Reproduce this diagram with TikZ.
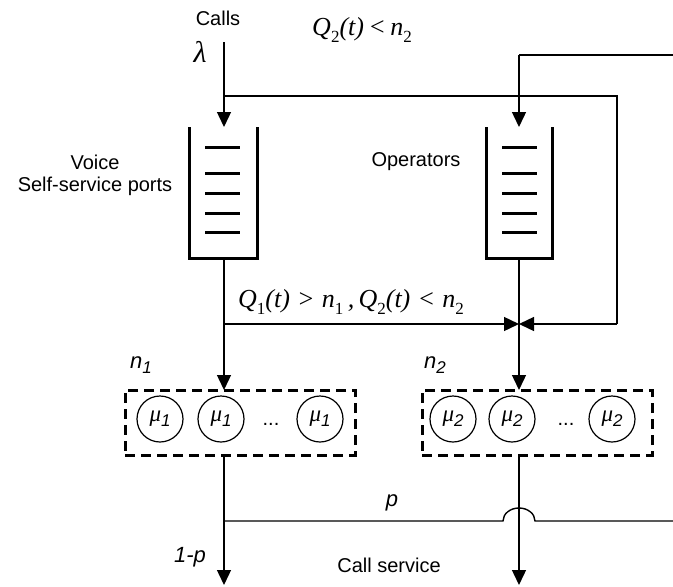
\documentclass[tikz,border=0pt]{standalone}
\usepackage{fontspec}
\setmainfont{Liberation Serif}
\setsansfont{Liberation Sans}
\usetikzlibrary{arrows.meta}

% lowered upright subscript for the condition labels
\newcommand\lowsub[1]{\raisebox{-0.3em}{\upshape\fontsize{17}{17}\selectfont #1}}
% service rate with its sans italic index
\newcommand\rate[1]{{\itshape μ}\raisebox{-0.22em}{\sffamily\itshape\fontsize{17}{17}\selectfont #1}}

\begin{document}
\begin{tikzpicture}[x=1pt,y=-1pt,
  wire/.style={line width=1.4pt},
  arr/.style={wire,-{Triangle[length=15pt,width=14pt]}},
  qwall/.style={line width=3pt},
  qbar/.style={line width=3pt},
  pool/.style={draw,line width=3pt,dash pattern=on 10pt off 6pt,
               minimum width=230pt,minimum height=65pt,outer sep=0pt,inner sep=0pt},
  srv/.style={circle,draw,line width=1.2pt,minimum size=46pt,inner sep=0pt,
              font=\fontsize{23}{24}\selectfont},
  lbl/.style={font=\sffamily\fontsize{20}{22}\selectfont,inner sep=0pt},
  ilbl/.style={font=\sffamily\itshape\fontsize{22}{24}\selectfont,inner sep=0pt},
  mth/.style={font=\itshape\fontsize{26}{28}\selectfont,inner sep=0pt}]

\useasboundingbox (0,0) rectangle (673,587);

% routing points
\coordinate (in) at (224,42);
\coordinate (split) at (224,96);
\coordinate (q1top) at (224,127);
\coordinate (q2top) at (519,127);
\coordinate (fbR) at (617,96);
\coordinate (fbC) at (617,324);
\coordinate (meet) at (519,324);
\coordinate (q1bot) at (224,258);
\coordinate (q2bot) at (519,258);
\coordinate (branch) at (224,324);
\coordinate (ext) at (673,55);
\coordinate (extC) at (519,55);
\coordinate (out1) at (224,585);
\coordinate (out2) at (519,585);
\coordinate (pl) at (224,521);
\coordinate (pr) at (673,521);

% queues
\draw[qwall] (189,127) -- (189,258) -- (257,258) -- (257,127);
\draw[qwall] (486,127) -- (486,258) -- (552,258) -- (552,127);
\foreach \y in {147,173,193,213,232}{
  \draw[qbar] (205,\y) -- (240,\y);
  \draw[qbar] (502,\y) -- (537,\y);
}

% server pools
\node[pool] (pool1) at (240,422.5) {};
\node[pool] (pool2) at (537,422.5) {};
\node[srv] (s11) at (160,419) {\rate{1}};
\node[srv] (s12) at (221,419) {\rate{1}};
\node[srv] (s13) at (320,419) {\rate{1}};
\node[lbl] (d1) at (271,424) {...};
\node[srv] (s21) at (453,419) {\rate{2}};
\node[srv] (s22) at (512,419) {\rate{2}};
\node[srv] (s23) at (612,419) {\rate{2}};
\node[lbl] (d2) at (566,424) {...};

% arrivals and routing
\draw[wire] (in) -- (split);
\draw[arr] (split) -- (q1top);
\draw[wire] (split) -- (fbR) -- (fbC);
\draw[arr] (fbC) -- (meet);
\draw[wire] (ext) -- (extC);
\draw[arr] (extC) -- (q2top);
\draw[wire] (q1bot) -- (branch);
\draw[arr] (branch) -- (meet);
\draw[arr] (branch) -- (q1bot |- pool1.north);
\draw[arr] (q2bot) -- (q2bot |- pool2.north);

% departures
\draw[arr] (q1bot |- pool1.south) -- (out1);
\draw[arr] (q2bot |- pool2.south) -- (out2);
\draw[wire] (pl) -- (503,521) arc[start angle=180,end angle=0,x radius=16pt,y radius=13pt] -- (pr);

% labels
\node[lbl] (calls) at (218,18) {Calls};
\node[mth,font=\itshape\fontsize{30}{30}\selectfont] (lam) at (200,52) {λ};
\node[mth] (c2) at (362,30) {Q\lowsub{2}(t)\,<\,n\lowsub{2}};
\node[lbl,align=center] (voice) at (95,175) {Voice\\Self-service ports};
\node[lbl] (ops) at (416,162) {Operators};
\node[mth] (c1) at (351,302) {Q\lowsub{1}(t)\;>\;n\lowsub{1}\,,\,Q\lowsub{2}(t)\;<\;n\lowsub{2}};
\node[ilbl] (n1) at (141,365) {n\raisebox{-0.25em}{\fontsize{17}{17}\selectfont 1}};
\node[ilbl] (n2) at (435,365) {n\raisebox{-0.25em}{\fontsize{17}{17}\selectfont 2}};
\node[ilbl] (p) at (392,503) {p};
\node[ilbl] (q) at (190,557) {1-p};
\node[lbl] (cs) at (389,565) {Call service};
\end{tikzpicture}
\end{document}
